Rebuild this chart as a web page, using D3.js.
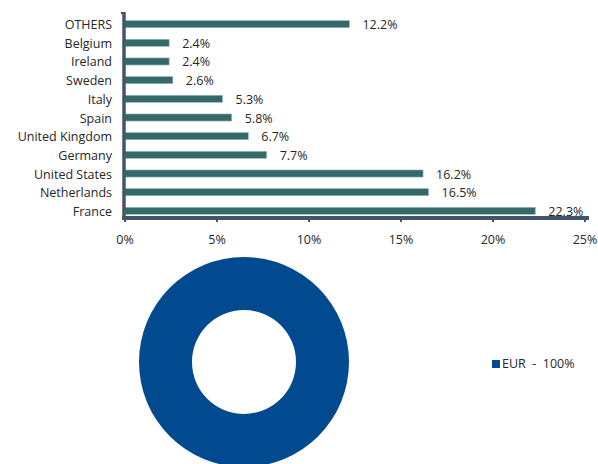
<!DOCTYPE html>
<html>
<head>
<meta charset="utf-8">
<script src="https://cdn.jsdelivr.net/npm/d3@7"></script>
<style>
  body { margin: 0; background: #fff; }
  text { font-family: "Open Sans", "Lato", sans-serif; fill: #262626; }
</style>
</head>
<body>
<script>
// donnees du graphique
const countries = ["OTHERS", "Belgium", "Ireland", "Sweden", "Italy", "Spain",
  "United Kingdom", "Germany", "United States", "Netherlands", "France"];
const weights = [12.2, 2.4, 2.4, 2.6, 5.3, 5.8, 6.7, 7.7, 16.2, 16.5, 22.3];
const xTicks = [0, 5, 10, 15, 20, 25];
const currencies = ["EUR"];
const currencyWeights = [100];

const W = 598, H = 464;
const svg = d3.select("body").append("svg")
  .attr("width", W)
  .attr("height", H);

// --- barres horizontales ---
const x = d3.scaleLinear().domain([0, 25]).range([125, 585]);
const y = d3.scaleBand().domain(countries).range([15, 220]).paddingInner(0.62).paddingOuter(0.3);

svg.append("g")
  .selectAll("rect")
  .data(weights)
  .join("rect")
  .attr("x", x(0))
  .attr("y", (d, i) => y(countries[i]))
  .attr("width", d => x(d) - x(0))
  .attr("height", y.bandwidth())
  .attr("fill", "#336A69")
  .attr("stroke", "#9fbdbc")
  .attr("stroke-width", 0.6);

svg.append("g")
  .selectAll("text")
  .data(weights)
  .join("text")
  .attr("x", d => x(d) + 13)
  .attr("y", (d, i) => y(countries[i]) + y.bandwidth() / 2 + 5)
  .attr("font-size", 12.5)
  .text(d => d.toFixed(1) + "%");

// etiquettes pays
svg.append("g")
  .selectAll("text")
  .data(countries)
  .join("text")
  .attr("x", 112)
  .attr("y", d => y(d) + y.bandwidth() / 2 + 5)
  .attr("text-anchor", "end")
  .attr("font-size", 12.5)
  .text(d => d);

// axe x
const xAxis = svg.append("g").attr("transform", "translate(0,218)");
xAxis.append("line")
  .attr("x1", x(0) - 3).attr("x2", x(25) + 4)
  .attr("stroke", "#44546A").attr("stroke-width", 4);
xAxis.selectAll(".tk")
  .data(xTicks)
  .join("line")
  .attr("x1", d => x(d)).attr("x2", d => x(d))
  .attr("y1", 0).attr("y2", 4)
  .attr("stroke", "#44546A").attr("stroke-width", 2);
xAxis.selectAll("text")
  .data(xTicks)
  .join("text")
  .attr("x", d => x(d))
  .attr("y", 26)
  .attr("text-anchor", "middle")
  .attr("font-size", 12.5)
  .text(d => d + "%");

// axe y
svg.append("line")
  .attr("x1", x(0) - 1).attr("x2", x(0) - 1)
  .attr("y1", 12).attr("y2", 220)
  .attr("stroke", "#44546A").attr("stroke-width", 3.5);
svg.append("line")
  .attr("x1", x(0) - 4).attr("x2", x(0))
  .attr("y1", 13).attr("y2", 13)
  .attr("stroke", "#44546A").attr("stroke-width", 2);

// --- anneau devises ---
const pie = d3.pie().sort(null)(currencyWeights);
const arc = d3.arc().innerRadius(52).outerRadius(105);
svg.append("g")
  .attr("transform", "translate(244,362)")
  .selectAll("path")
  .data(pie)
  .join("path")
  .attr("d", arc)
  .attr("fill", "#014A8F");

const legend = svg.append("g")
  .selectAll("g")
  .data(currencies)
  .join("g")
  .attr("transform", (d, i) => `translate(492,${360 + i * 18})`);
legend.append("rect")
  .attr("width", 8).attr("height", 8)
  .attr("fill", "#014A8F");
legend.append("text")
  .attr("x", 10)
  .attr("y", 8)
  .attr("font-size", 12.5)
  .text((d, i) => `${d}  -  ${currencyWeights[i]}%`)
  .attr("xml:space", "preserve")
  .style("white-space", "pre");
</script>
</body>
</html>
